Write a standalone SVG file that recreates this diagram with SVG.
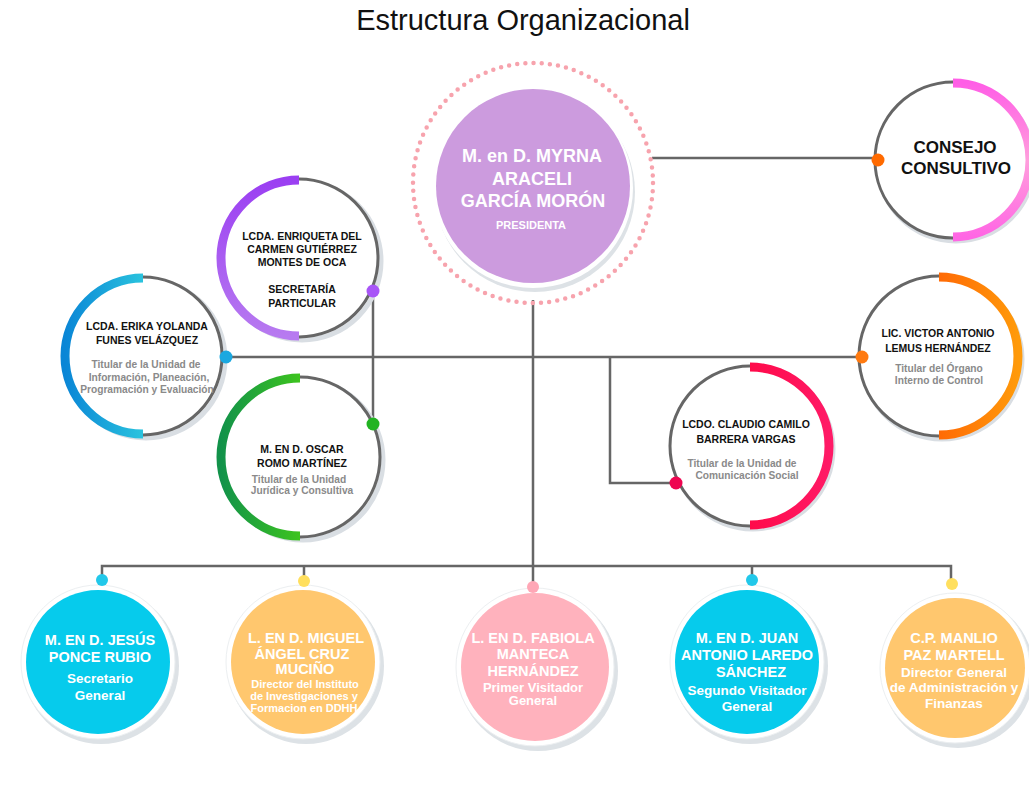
<svg xmlns="http://www.w3.org/2000/svg" width="1029" height="807" viewBox="0 0 1029 807">
<defs>
<style>
.title{font-family:"Liberation Sans",Arial,sans-serif;font-size:29px;fill:#111;text-anchor:middle}
.ring{fill:#fff;stroke:#666;stroke-width:3}
.shadow{fill:none;stroke:#d9dee3;stroke-width:5}
.arc{fill:none;stroke-width:9}
.nm{font-family:"Liberation Sans",Arial,sans-serif;font-size:10.5px;font-weight:bold;fill:#111;text-anchor:middle}
.sub{font-family:"Liberation Sans",Arial,sans-serif;font-size:10.2px;font-weight:600;fill:#8a8a8a;text-anchor:middle}
.wn{font-family:"Liberation Sans",Arial,sans-serif;font-size:14.5px;font-weight:bold;fill:#fff;text-anchor:middle}
.ws{font-family:"Liberation Sans",Arial,sans-serif;font-size:13.5px;font-weight:bold;fill:#fff;text-anchor:middle}
.wsm{font-family:"Liberation Sans",Arial,sans-serif;font-size:11px;font-weight:600;fill:#fff;text-anchor:middle}
.line{fill:none;stroke:#666;stroke-width:2.5}
.bshadow{fill:#dde2e6}
.bwhite{fill:#fff;stroke:#eceff1;stroke-width:1}
</style>
<linearGradient id="gPurple" x1="0" y1="0" x2="0" y2="1"><stop offset="0" stop-color="#9b3ff2"/><stop offset="1" stop-color="#b77af0"/></linearGradient>
<linearGradient id="gBlue" x1="0" y1="0" x2="1" y2="0"><stop offset="0" stop-color="#0a86d6"/><stop offset="1" stop-color="#2ac3de"/></linearGradient>
<linearGradient id="gGreen" x1="0" y1="0" x2="1" y2="0"><stop offset="0" stop-color="#12924a"/><stop offset="1" stop-color="#3dc41e"/></linearGradient>
<linearGradient id="gOrange" x1="0" y1="0" x2="1" y2="0"><stop offset="0" stop-color="#ff6a05"/><stop offset="1" stop-color="#ff9a0a"/></linearGradient>
<linearGradient id="gRed" x1="0" y1="0" x2="1" y2="0"><stop offset="0" stop-color="#ff0a4a"/><stop offset="1" stop-color="#ff1a66"/></linearGradient>
<linearGradient id="gPink" x1="0" y1="0" x2="0" y2="1"><stop offset="0" stop-color="#ff5ee6"/><stop offset="0.5" stop-color="#ff9edc"/><stop offset="1" stop-color="#ff66e4"/></linearGradient>
</defs>
<rect width="1029" height="807" fill="#fff"/>
<text class="title" x="523" y="30">Estructura Organizacional</text>

<g id="connectors">
<line class="line" x1="652" y1="158" x2="878" y2="158"/>
<line class="line" x1="226" y1="357" x2="862" y2="357"/>
<line class="line" x1="373" y1="291" x2="373" y2="424"/>
<polyline class="line" points="610,357 610,483 676,483"/>
<line class="line" x1="533" y1="300" x2="533" y2="586"/>
<polyline class="line" points="102,580 102,566 951,566 951,582"/>
<line class="line" x1="304" y1="566" x2="304" y2="580"/>
<line class="line" x1="752" y1="566" x2="752" y2="580"/>
</g>

<g id="presidenta">
<circle cx="533" cy="183" r="120" fill="none" stroke="#f7a3ad" stroke-width="4.5" stroke-dasharray="0 8.2" stroke-linecap="round"/>
<circle cx="535" cy="192" r="100" class="bshadow"/>
<circle cx="533" cy="188" r="100" fill="#fff"/>
<circle cx="533" cy="186" r="97" fill="#cc9bde"/>
<text class="wn" style="font-size:18px" x="532" y="162">M. en D. MYRNA</text>
<text class="wn" style="font-size:18px" x="532" y="185">ARACELI</text>
<text class="wn" style="font-size:18px" x="533" y="207">GARCÍA MORÓN</text>
<text class="wn" style="font-size:11px" x="531" y="229">PRESIDENTA</text>
</g>

<g id="consejo">
<circle class="shadow" cx="956" cy="163" r="78"/>
<circle class="ring" cx="953" cy="160" r="78"/>
<path class="arc" stroke="url(#gPink)" d="M953,83 A77,77 0 0 1 953,237"/>
<circle cx="878" cy="160" r="6.5" fill="#ff6a00"/>
<text class="nm" style="font-size:17px" x="955" y="153">CONSEJO</text>
<text class="nm" style="font-size:17px" x="956" y="174">CONSULTIVO</text>
</g>

<g id="enriqueta">
<circle class="shadow" cx="302" cy="261" r="79"/>
<circle class="ring" cx="299" cy="258" r="79"/>
<path class="arc" stroke="url(#gPurple)" d="M299,180 A78,78 0 0 0 299,336"/>
<circle cx="373" cy="291" r="6.5" fill="#a855f7"/>
<text class="nm" x="302" y="240">LCDA. ENRIQUETA DEL</text>
<text class="nm" x="302" y="253">CARMEN GUTIÉRREZ</text>
<text class="nm" x="302" y="266">MONTES DE OCA</text>
<text class="nm" x="302" y="293">SECRETARÍA</text>
<text class="nm" x="302" y="307">PARTICULAR</text>
</g>

<g id="erika">
<circle class="shadow" cx="146" cy="359" r="79"/>
<circle class="ring" cx="143" cy="356" r="79"/>
<path class="arc" stroke="url(#gBlue)" d="M143,278 A78,78 0 0 0 143,434"/>
<circle cx="226" cy="357" r="6.5" fill="#1ba8e0"/>
<text class="nm" x="147" y="330">LCDA. ERIKA YOLANDA</text>
<text class="nm" x="147" y="344">FUNES VELÁZQUEZ</text>
<text class="sub" x="146" y="368">Titular de la Unidad de</text>
<text class="sub" x="149" y="381">Información, Planeación,</text>
<text class="sub" x="147" y="393">Programación y Evaluación</text>
</g>

<g id="oscar">
<circle class="shadow" cx="303" cy="460" r="80"/>
<circle class="ring" cx="300" cy="457" r="80"/>
<path class="arc" stroke="url(#gGreen)" d="M300,378 A79,79 0 0 0 300,536"/>
<circle cx="373" cy="424" r="6.5" fill="#22b322"/>
<text class="nm" x="302" y="453">M. EN D. OSCAR</text>
<text class="nm" x="302" y="467">ROMO MARTÍNEZ</text>
<text class="sub" x="299" y="483">Titular de la Unidad</text>
<text class="sub" x="302" y="494">Jurídica y Consultiva</text>
</g>

<g id="victor">
<circle class="shadow" cx="942" cy="359" r="80"/>
<circle class="ring" cx="939" cy="356" r="80"/>
<path class="arc" stroke="url(#gOrange)" d="M939,277 A79,79 0 0 1 939,435"/>
<circle cx="862" cy="357" r="6.5" fill="#ff7a10"/>
<text class="nm" x="938" y="337">LIC. VICTOR ANTONIO</text>
<text class="nm" x="938" y="352">LEMUS HERNÁNDEZ</text>
<text class="sub" x="939" y="372">Titular del Órgano</text>
<text class="sub" x="939" y="384">Interno de Control</text>
</g>

<g id="claudio">
<circle class="shadow" cx="753" cy="449" r="80"/>
<circle class="ring" cx="750" cy="446" r="80"/>
<path class="arc" stroke="url(#gRed)" d="M750,367 A79,79 0 0 1 750,525"/>
<circle cx="676" cy="483" r="6.5" fill="#ee0550"/>
<text class="nm" x="746" y="428">LCDO. CLAUDIO CAMILO</text>
<text class="nm" x="746" y="443">BARRERA VARGAS</text>
<text class="sub" x="742" y="467">Titular de la Unidad de</text>
<text class="sub" x="747" y="479">Comunicación Social</text>
</g>

<g id="jesus">
<circle class="bshadow" cx="101" cy="666" r="78"/>
<circle class="bwhite" cx="98" cy="662" r="77"/>
<circle cx="98" cy="662" r="72" fill="#06cbec"/>
<circle cx="102" cy="580" r="6" fill="#22c8ea"/>
<text class="wn" x="100" y="645">M. EN D. JESÚS</text>
<text class="wn" x="100" y="662">PONCE RUBIO</text>
<text class="ws" x="100" y="683">Secretario</text>
<text class="ws" x="100" y="700">General</text>
</g>

<g id="miguel">
<circle class="bshadow" cx="306" cy="666" r="78"/>
<circle class="bwhite" cx="303" cy="662" r="77"/>
<circle cx="303" cy="662" r="72" fill="#ffc76e"/>
<circle cx="304" cy="581" r="6" fill="#ffdf5e"/>
<text class="wn" x="306" y="643">L. EN D. MIGUEL</text>
<text class="wn" x="302" y="659">ÁNGEL CRUZ</text>
<text class="wn" x="305" y="674">MUCIÑO</text>
<text class="wsm" x="305" y="688">Director del Instituto</text>
<text class="wsm" x="304" y="700">de Investigaciones y</text>
<text class="wsm" x="304" y="712">Formacion en DDHH</text>
</g>

<g id="fabiola">
<circle class="bshadow" cx="538" cy="671" r="80"/>
<circle class="bwhite" cx="535" cy="667" r="79"/>
<circle cx="535" cy="667" r="74" fill="#ffb2bd"/>
<circle cx="533" cy="587" r="6" fill="#ffa7b6"/>
<text class="wn" x="533" y="643">L. EN D. FABIOLA</text>
<text class="wn" x="533" y="659">MANTECA</text>
<text class="wn" x="533" y="676">HERNÁNDEZ</text>
<text class="ws" style="font-size:13px" x="533" y="692">Primer Visitador</text>
<text class="ws" style="font-size:13px" x="533" y="705">General</text>
</g>

<g id="juan">
<circle class="bshadow" cx="750" cy="666" r="78"/>
<circle class="bwhite" cx="747" cy="662" r="77"/>
<circle cx="747" cy="662" r="72" fill="#06cbec"/>
<circle cx="752" cy="580" r="6" fill="#22c8ea"/>
<text class="wn" x="747" y="643">M. EN D. JUAN</text>
<text class="wn" x="747" y="660">ANTONIO LAREDO</text>
<text class="wn" x="751" y="677">SÁNCHEZ</text>
<text class="ws" x="747" y="695">Segundo Visitador</text>
<text class="ws" x="747" y="711">General</text>
</g>

<g id="manlio">
<circle class="bshadow" cx="958" cy="672" r="76"/>
<circle class="bwhite" cx="955" cy="668" r="75"/>
<circle cx="955" cy="668" r="70" fill="#ffc76e"/>
<circle cx="952" cy="584" r="6" fill="#ffdf5e"/>
<text class="wn" x="954" y="643">C.P. MANLIO</text>
<text class="wn" x="954" y="660">PAZ MARTELL</text>
<text class="ws" x="954" y="677">Director General</text>
<text class="ws" x="954" y="692">de Administración y</text>
<text class="ws" x="954" y="708">Finanzas</text>
</g>
</svg>
